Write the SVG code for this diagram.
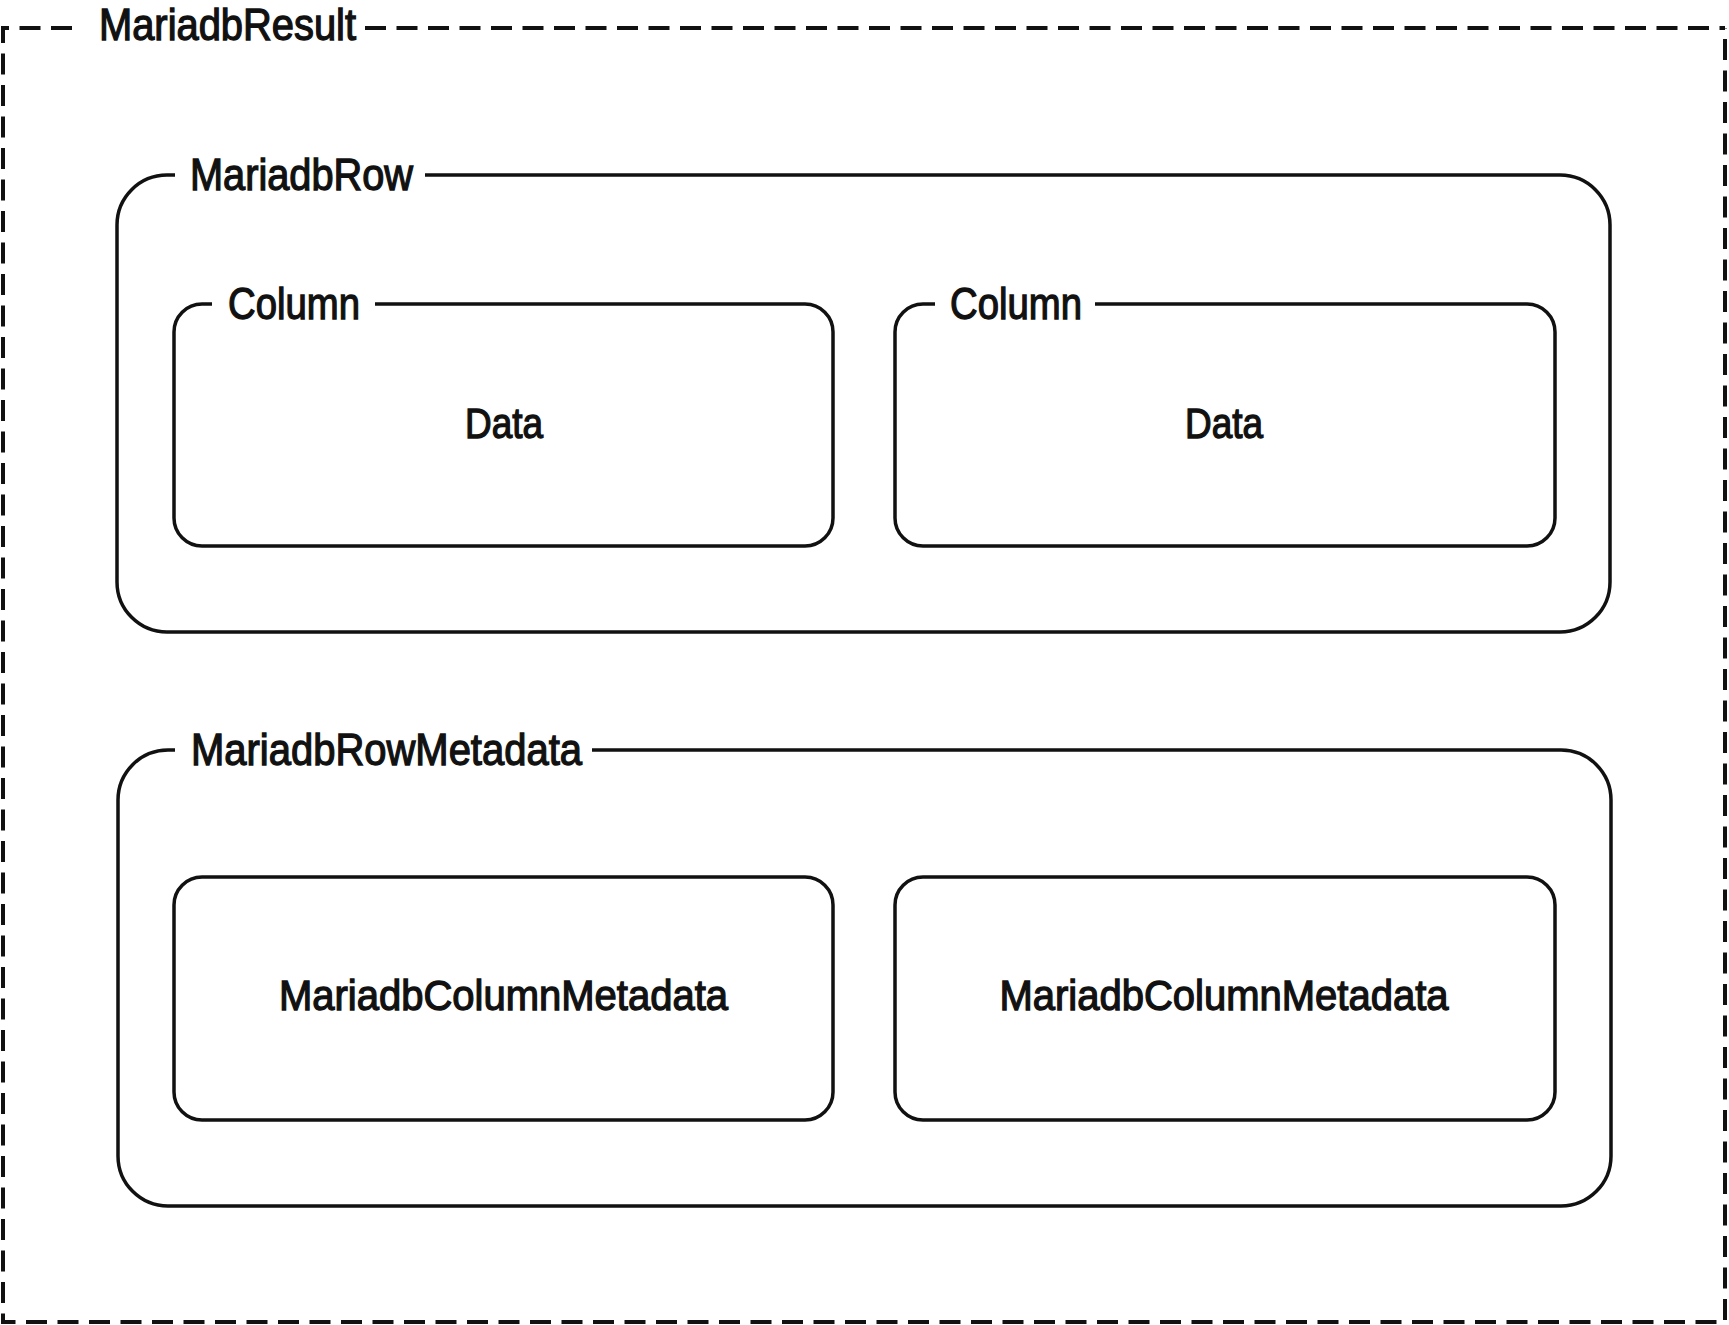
<svg xmlns="http://www.w3.org/2000/svg" width="1729" height="1325" viewBox="0 0 1729 1325">
<style>
.frame{fill:none;stroke:#111;stroke-width:3.5;stroke-linejoin:round}
.dash{fill:none;stroke:#111;stroke-width:4;stroke-dasharray:21 10.5}
.lbl{font-family:"Liberation Sans",Arial,sans-serif;font-size:44px;fill:#111;stroke:#111;stroke-width:1.3}
.ctr{font-family:"Liberation Sans",Arial,sans-serif;font-size:42px;fill:#111;stroke:#111;stroke-width:1.3;text-anchor:middle}
</style>
<rect width="1729" height="1325" fill="#fff"/>
<g id="mariadbResult">
<path class="dash" d="M72,28 H3 V1322 H1725 V28"/>
<path class="dash" d="M365,28 H1725"/>
<text class="lbl" x="99" y="40" textLength="257" lengthAdjust="spacingAndGlyphs">MariadbResult</text>
</g>
<g id="mariadbRow">
<path class="frame" d="M425,175 H1560 A50,50 0 0 1 1610,225 V582 A50,50 0 0 1 1560,632 H167 A50,50 0 0 1 117,582 V225 A50,50 0 0 1 167,175 H175"/>
<text class="lbl" x="190" y="190" textLength="223" lengthAdjust="spacingAndGlyphs">MariadbRow</text>
</g>
<g id="column1">
<path class="frame" d="M375,304 H805 A28,28 0 0 1 833,332 V518 A28,28 0 0 1 805,546 H202 A28,28 0 0 1 174,518 V332 A28,28 0 0 1 202,304 H212"/>
<text class="lbl" x="228" y="319" textLength="132" lengthAdjust="spacingAndGlyphs">Column</text>
<text class="ctr" x="504" y="438" textLength="78" lengthAdjust="spacingAndGlyphs">Data</text>
</g>
<g id="column2">
<path class="frame" d="M1095,304 H1527 A28,28 0 0 1 1555,332 V518 A28,28 0 0 1 1527,546 H923 A28,28 0 0 1 895,518 V332 A28,28 0 0 1 923,304 H935"/>
<text class="lbl" x="950" y="319" textLength="132" lengthAdjust="spacingAndGlyphs">Column</text>
<text class="ctr" x="1224" y="438" textLength="78" lengthAdjust="spacingAndGlyphs">Data</text>
</g>
<g id="mariadbRowMetadata">
<path class="frame" d="M592,750 H1561 A50,50 0 0 1 1611,800 V1156 A50,50 0 0 1 1561,1206 H168 A50,50 0 0 1 118,1156 V800 A50,50 0 0 1 168,750 H175"/>
<text class="lbl" x="191" y="765" textLength="391" lengthAdjust="spacingAndGlyphs">MariadbRowMetadata</text>
</g>
<g id="columnMetadata1">
<rect class="frame" x="174" y="877" width="659" height="243" rx="28"/>
<text class="ctr" x="503.5" y="1010" textLength="449" lengthAdjust="spacingAndGlyphs">MariadbColumnMetadata</text>
</g>
<g id="columnMetadata2">
<rect class="frame" x="895" y="877" width="660" height="243" rx="28"/>
<text class="ctr" x="1224" y="1010" textLength="449" lengthAdjust="spacingAndGlyphs">MariadbColumnMetadata</text>
</g>
<g id="connectors"></g>
</svg>
